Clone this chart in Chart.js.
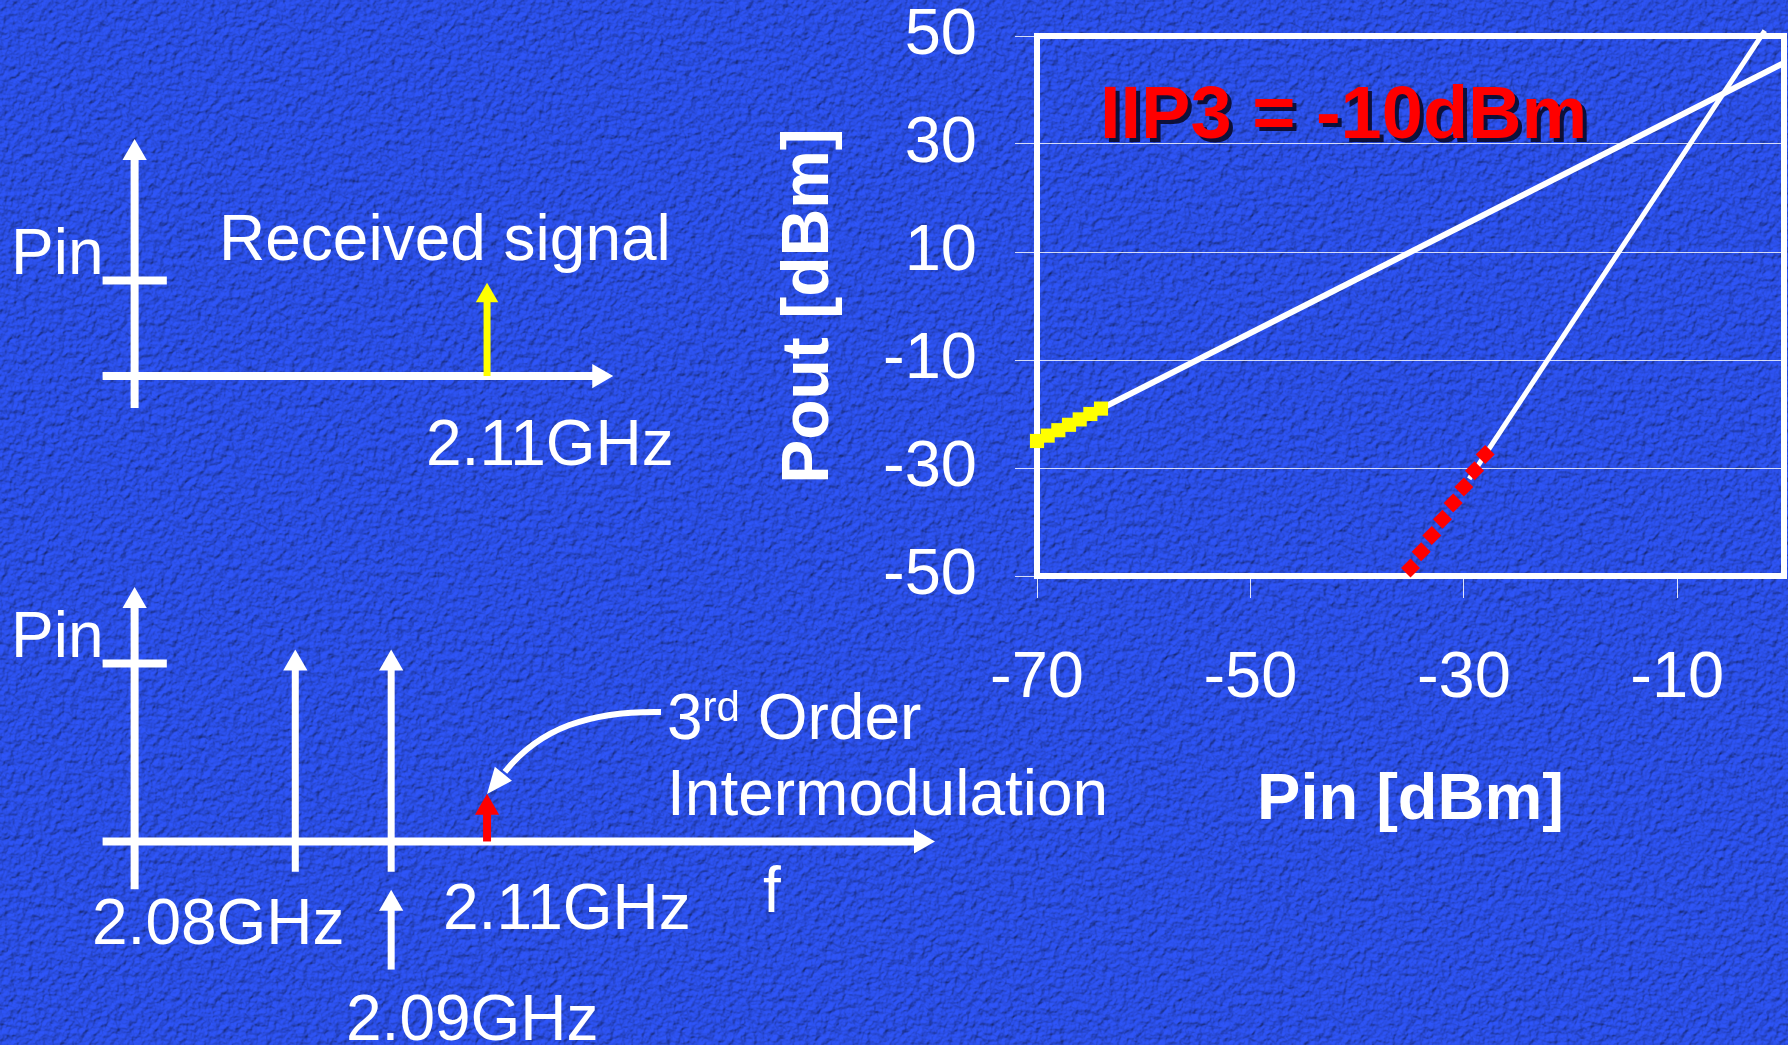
<!DOCTYPE html>
<html>
<head>
<meta charset="utf-8">
<title>IIP3 two-tone test</title>
<script src="https://cdn.jsdelivr.net/npm/chart.js@4.4.1/dist/chart.umd.min.js"></script>
<style>
  html, body { margin: 0; padding: 0; }
  body { width: 1788px; height: 1045px; overflow: hidden; position: relative; background: #2e55fa;
         font-family: 'Liberation Sans', Arial, sans-serif; color: #fff; }
  #texture { position: absolute; left: 0; top: 0; width: 1788px; height: 1045px; mix-blend-mode: multiply; }
  canvas { position: absolute; }
  .lbl { position: absolute; white-space: nowrap; font-size: 64px; line-height: 1; }
  .sup { font-size: 42px; line-height: 1; position: relative; top: -18px; }
  .iip3 { font-size: 74px; font-weight: bold; color: #ff0000; text-shadow: 4px 4px 0 rgba(10,10,40,0.9); }
</style>
</head>
<body>
<div id="texture"></div>
<canvas id="specTop" width="1000" height="340" style="left:0;top:100px"></canvas>
<canvas id="specBottom" width="1000" height="440" style="left:0;top:560px"></canvas>
<canvas id="main" width="1788" height="1045" style="left:0;top:0"></canvas>

<div class="lbl" style="left:11px;top:220px">Pin</div>
<div class="lbl" style="left:219px;top:206px">Received signal</div>
<div class="lbl" style="left:426px;top:411px">2.11GHz</div>
<div class="lbl" style="left:11px;top:603px">Pin</div>
<div class="lbl" style="left:92px;top:890px">2.08GHz</div>
<div class="lbl" style="left:443px;top:875px">2.11GHz</div>
<div class="lbl" style="left:763px;top:858px">f</div>
<div class="lbl" style="left:346px;top:986px">2.09GHz</div>
<div class="lbl" style="left:667px;top:685px">3<span class="sup">rd</span> Order</div>
<div class="lbl" style="left:667px;top:761px">Intermodulation</div>
<div class="lbl iip3" style="left:1100px;top:76px">IIP3 = -10dBm</div>

<script>
// background paper texture
var svg = "<svg xmlns='http://www.w3.org/2000/svg' width='1788' height='1045'>" +
  "<filter id='f' x='0' y='0' width='1' height='1'>" +
  "<feTurbulence type='fractalNoise' baseFrequency='0.16' numOctaves='3' seed='3'/>" +
  "<feDiffuseLighting surfaceScale='2.5' lighting-color='#fff'><feDistantLight azimuth='235' elevation='55'/></feDiffuseLighting>" +
  "</filter><rect width='1788' height='1045' filter='url(#f)'/></svg>";
document.getElementById('texture').style.backgroundImage = 'url("data:image/svg+xml,' + encodeURIComponent(svg) + '")';

Chart.defaults.font.family = "'Liberation Sans', Arial, sans-serif";
Chart.defaults.color = '#ffffff';

// ---- Pout vs Pin chart ----
var pinTicks = [-70, -50, -30, -10];
var poutTicks = [-50, -30, -10, 10, 30, 50];

// fundamental (slope 1) and 3rd order product (slope 3)
var fundPin = [-70, 0];
var fundPout = [-25, 45];
var im3Pin = [-29.5, -1.8];
var im3Pout = [-32, 51];

// highlighted parts: received signal level (yellow), IM3 level (red)
var rxPin = [-70, -69, -68, -67, -66, -65, -64];
var rxPout = [-25, -24, -23, -22, -21, -20, -19];
var imPin = [-35, -34, -33, -32, -31, -30, -29, -28];
var imPout = [-48.5, -45.5, -42.5, -39.5, -36.5, -33.5, -30.5, -27.5];

// ---- spectrum sketches (slot 0 = 2.08GHz, 1 = 2.09GHz, 2 = 2.11GHz, level 1 = Pin) ----
var freqLabels = ['2.08GHz', '2.09GHz', '2.11GHz'];
var receivedSlots = [2];
var receivedLevels = [0.84];
var toneSlots = [0, 1];
var toneLevels = [1.0, 1.0];
var im3Slots = [2];
var im3Levels = [0.19];

function pts(xs, ys) {
  return xs.map(function (x, i) { return {x: x, y: ys[i]}; });
}

// top and right side of the plot frame
var frame = {
  id: 'frame',
  beforeDatasetsDraw: function (chart) {
    var ctx = chart.ctx, a = chart.chartArea;
    ctx.save();
    ctx.strokeStyle = '#ffffff';
    ctx.lineWidth = 6;
    ctx.lineCap = 'square';
    ctx.beginPath();
    ctx.moveTo(a.left, a.top);
    ctx.lineTo(a.right, a.top);
    ctx.lineTo(a.right, a.bottom);
    ctx.stroke();
    ctx.restore();
  }
};

new Chart(document.getElementById('main'), {
  type: 'scatter',
  data: {
    datasets: [
      { label: 'Received signal', data: pts(rxPin, rxPout), showLine: true, borderColor: '#ffff00',
        backgroundColor: '#ffff00', borderWidth: 9, pointStyle: 'rect', pointRadius: 10, pointBorderWidth: 0,
        clip: false },
      { label: 'IM3', data: pts(imPin, imPout), showLine: false, pointStyle: 'rectRot', pointRadius: 9.5,
        backgroundColor: '#ff0000', pointBorderWidth: 0, clip: false },
      { label: 'Fundamental', data: pts(fundPin, fundPout), showLine: true, borderColor: '#ffffff',
        borderWidth: 6, pointRadius: 0 },
      { label: '3rd order', data: pts(im3Pin, im3Pout), showLine: true, borderColor: '#ffffff',
        borderWidth: 5, pointRadius: 0, clip: false }
    ]
  },
  options: {
    responsive: false,
    animation: false,
    events: [],
    layout: { autoPadding: false, padding: { left: 777, top: 36, right: 4, bottom: 211 } },
    plugins: { legend: { display: false }, tooltip: { enabled: false } },
    scales: {
      x: {
        type: 'linear', min: -70, max: 0,
        afterBuildTicks: function (s) { s.ticks = pinTicks.map(function (v) { return {value: v}; }); },
        afterFit: function (s) { s.height = 258; s.paddingLeft = 0; s.paddingRight = 0; },
        grid: { drawOnChartArea: false, tickLength: 22, color: 'rgba(255,255,255,0.85)', lineWidth: 1 },
        border: { color: '#ffffff', width: 6 },
        ticks: { color: '#ffffff', padding: 49, font: { size: 65, lineHeight: 1 } },
        title: { display: true, text: 'Pin [dBm]', color: '#ffffff', padding: 0,
                 font: { size: 65, weight: 'bold', lineHeight: 1 } }
      },
      y: {
        type: 'linear', min: -50, max: 50,
        afterBuildTicks: function (s) { s.ticks = poutTicks.map(function (v) { return {value: v}; }); },
        afterFit: function (s) { s.width = 260; s.paddingTop = 0; s.paddingBottom = 0; },
        grid: { tickLength: 22, color: 'rgba(255,255,255,0.8)', lineWidth: 1 },
        border: { color: '#ffffff', width: 6 },
        ticks: { color: '#ffffff', padding: 38, font: { size: 65, lineHeight: 1 } },
        title: { display: true, text: 'Pout [dBm]', color: '#ffffff', padding: 0,
                 font: { size: 66, weight: 'bold', lineHeight: 1 } }
      }
    }
  },
  plugins: [frame]
});

// arrow lines for the spectrum sketches
function arrow(p, color, width, head, rot) {
  return { data: p, showLine: true, borderColor: color, borderWidth: width, borderCapStyle: 'butt',
           pointRadius: [0, head], pointHoverRadius: [0, head], pointStyle: 'triangle',
           pointRotation: [0, rot || 0], pointBackgroundColor: color, pointBorderWidth: 0 };
}

function spectrum(id, yMin, yMax, sets, extra) {
  return new Chart(document.getElementById(id), {
    type: 'scatter',
    data: { datasets: sets },
    options: {
      responsive: false, animation: false, events: [],
      layout: { autoPadding: false, padding: 0 },
      plugins: { legend: { display: false }, tooltip: { enabled: false } },
      scales: {
        x: { type: 'linear', display: false, min: -3.08, max: 7.35 },
        y: { type: 'linear', display: false, min: yMin, max: yMax }
      }
    },
    plugins: extra ? [extra] : []
  });
}

var topSets = [
  arrow([{x: -1.676, y: -0.335}, {x: -1.676, y: 2.335}], '#ffffff', 8, 14),
  arrow([{x: -2.01, y: 0}, {x: 3.17, y: 0}], '#ffffff', 8, 14, 90),
  arrow([{x: -2.01, y: 1}, {x: -1.34, y: 1}], '#ffffff', 8, 0)
];
receivedSlots.forEach(function (s, i) {
  topSets.unshift(arrow([{x: s, y: 0}, {x: s, y: receivedLevels[i]}], '#ffff00', 7, 13));
});
spectrum('specTop', -0.67, 2.89, topSets);

var bottomSets = [
  arrow([{x: -1.676, y: -0.269}, {x: -1.676, y: 1.352}], '#ffffff', 8, 14),
  arrow([{x: -2.01, y: 0}, {x: 6.526, y: 0}], '#ffffff', 8, 14, 90),
  arrow([{x: -2.01, y: 1}, {x: -1.34, y: 1}], '#ffffff', 8, 0),
  arrow([{x: 1, y: -0.72}, {x: 1, y: -0.35}], '#ffffff', 7, 14)
];
toneSlots.forEach(function (s, i) {
  bottomSets.push(arrow([{x: s, y: -0.17}, {x: s, y: toneLevels[i]}], '#ffffff', 7, 14));
});
im3Slots.forEach(function (s, i) {
  bottomSets.unshift(arrow([{x: s, y: 0}, {x: s, y: im3Levels[i]}], '#ff0000', 8, 14));
});

// curved pointer from the "3rd Order" caption to the IM3 tone
var pointer = {
  id: 'pointer',
  afterDatasetsDraw: function (chart) {
    var ctx = chart.ctx, sx = chart.scales.x, sy = chart.scales.y;
    function P(s, a) { return [sx.getPixelForValue(s), sy.getPixelForValue(a)]; }
    var p0 = P(3.814, 0.728), c1 = P(3.074, 0.734), c2 = P(2.552, 0.638), p3 = P(2.186, 0.391), tip = P(2.0, 0.267);
    ctx.save();
    ctx.strokeStyle = '#ffffff';
    ctx.fillStyle = '#ffffff';
    ctx.lineWidth = 6;
    ctx.beginPath();
    ctx.moveTo(p0[0], p0[1]);
    ctx.bezierCurveTo(c1[0], c1[1], c2[0], c2[1], p3[0], p3[1]);
    ctx.stroke();
    var dx = tip[0] - p3[0], dy = tip[1] - p3[1], len = Math.sqrt(dx * dx + dy * dy);
    var ux = dx / len, uy = dy / len;
    var bx = tip[0] - ux * 26, by = tip[1] - uy * 26;
    ctx.beginPath();
    ctx.moveTo(tip[0], tip[1]);
    ctx.lineTo(bx - uy * 11, by + ux * 11);
    ctx.lineTo(bx + uy * 11, by - ux * 11);
    ctx.closePath();
    ctx.fill();
    ctx.restore();
  }
};
spectrum('specBottom', -0.891, 1.582, bottomSets, pointer);
</script>
</body>
</html>
